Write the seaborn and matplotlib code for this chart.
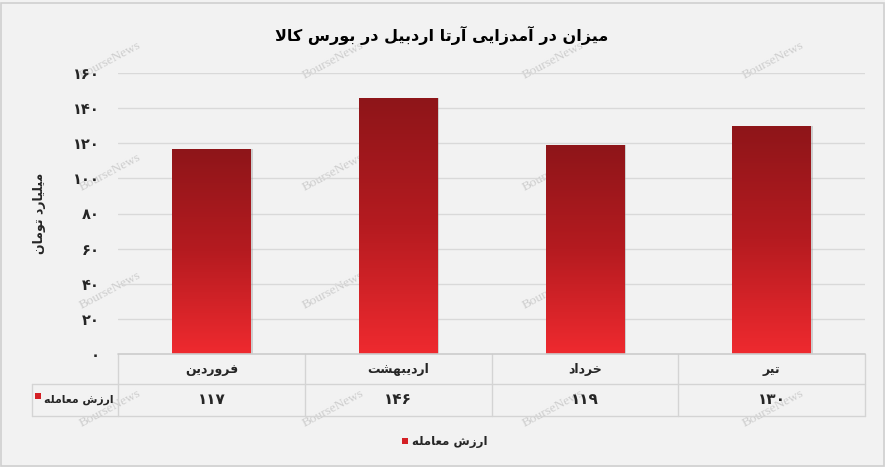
import numpy as np
import matplotlib
matplotlib.use("Agg")
import matplotlib.pyplot as plt
import seaborn as sns
import pandas as pd
from matplotlib.colors import LinearSegmentedColormap
from matplotlib.lines import Line2D
from matplotlib.patches import Rectangle
from matplotlib import patheffects as pe
from matplotlib.transforms import blended_transform_factory

# ---------------- data ----------------
months = ["فروردین", "اردیبهشت", "خرداد", "تیر"]
values = [117, 146, 119, 130]
value_labels = ["۱۱۷", "۱۴۶", "۱۱۹", "۱۳۰"]
ytick_values = [0, 20, 40, 60, 80, 100, 120, 140, 160]
ytick_labels = ["۰", "۲۰", "۴۰", "۶۰", "۸۰", "۱۰۰", "۱۲۰", "۱۴۰", "۱۶۰"]
title_text = "میزان در آمدزایی آرتا اردبیل در بورس کالا"
ylabel_text = "میلیارد تومان"
series_name = "ارزش معامله"
watermark = "BourseNews"

# ---------------- minimal Arabic/Persian shaping ----------------
FORMS = {
    "ا": ("\uFE8D", "\uFE8E", None, None),
    "آ": ("\uFE81", "\uFE82", None, None),
    "ب": ("\uFE8F", "\uFE90", "\uFE91", "\uFE92"),
    "ت": ("\uFE95", "\uFE96", "\uFE97", "\uFE98"),
    "خ": ("\uFEA5", "\uFEA6", "\uFEA7", "\uFEA8"),
    "د": ("\uFEA9", "\uFEAA", None, None),
    "ر": ("\uFEAD", "\uFEAE", None, None),
    "ز": ("\uFEAF", "\uFEB0", None, None),
    "س": ("\uFEB1", "\uFEB2", "\uFEB3", "\uFEB4"),
    "ش": ("\uFEB5", "\uFEB6", "\uFEB7", "\uFEB8"),
    "ع": ("\uFEC9", "\uFECA", "\uFECB", "\uFECC"),
    "ف": ("\uFED1", "\uFED2", "\uFED3", "\uFED4"),
    "ل": ("\uFEDD", "\uFEDE", "\uFEDF", "\uFEE0"),
    "م": ("\uFEE1", "\uFEE2", "\uFEE3", "\uFEE4"),
    "ن": ("\uFEE5", "\uFEE6", "\uFEE7", "\uFEE8"),
    "ه": ("\uFEE9", "\uFEEA", "\uFEEB", "\uFEEC"),
    "و": ("\uFEED", "\uFEEE", None, None),
    "ی": ("\uFBFC", "\uFBFD", "\uFBFE", "\uFBFF"),
    "ک": ("\uFB8E", "\uFB8F", "\uFB90", "\uFB91"),
}
LAMALEF = {"ا": ("\uFEFB", "\uFEFC"), "آ": ("\uFEF5", "\uFEF6")}


def dual(c):
    return c in FORMS and FORMS[c][2] is not None


def shape(s):
    out = []
    i = 0
    n = len(s)
    while i < n:
        c = s[i]
        prev = s[i - 1] if i > 0 else ""
        nxt = s[i + 1] if i + 1 < n else ""
        if c not in FORMS:
            out.append(c)
            i += 1
            continue
        jp = dual(prev)
        if c == "ل" and nxt in LAMALEF:
            out.append(LAMALEF[nxt][1] if jp else LAMALEF[nxt][0])
            i += 2
            continue
        jn = dual(c) and nxt in FORMS
        f = FORMS[c]
        if jp and jn:
            out.append(f[3])
        elif jp:
            out.append(f[1])
        elif jn:
            out.append(f[2])
        else:
            out.append(f[0])
        i += 1
    return "".join(out)[::-1]


# ---------------- figure ----------------
sns.set_style("white")
plt.rcParams["font.family"] = ["DejaVu Sans"]
BG = "#f2f2f2"
W, H = 885, 467
fig = plt.figure(figsize=(W / 100, H / 100), dpi=100, facecolor=BG)


def fx(x):
    return x / W


def fy(y):
    return 1 - y / H


ax = fig.add_axes([fx(118), fy(354), fx(865) - fx(118), fy(73) - fy(354)])
ax.set_facecolor("none")

df = pd.DataFrame({"month": [shape(m) for m in months], "value": values})
sns.barplot(data=df, x="month", y="value", color="#c81e22", width=0.42,
            ax=ax, zorder=3)

ax.set_xlim(-0.5, 3.5)
ax.set_ylim(0, 160)
ax.set_yticks(ytick_values)
ax.set_yticklabels(ytick_labels, fontsize=10.5, fontweight="bold")
ax.tick_params(axis="y", length=0, pad=13)
ax.set_xticks([])
ax.set_xlabel("")
ax.set_ylabel("")
for s in ax.spines.values():
    s.set_visible(False)
for v in ytick_values[1:]:
    ax.axhline(v, color="#d9d9d9", lw=1.0, zorder=1)

cmap = LinearSegmentedColormap.from_list("g", ["#8e1519", "#b51b20", "#ef2a2f"])
grad = np.linspace(0, 1, 256).reshape(-1, 1)
for p in ax.patches:
    x0, y0 = p.get_x(), p.get_y()
    w, h = p.get_width(), p.get_height()
    p.set_facecolor((1, 1, 1, 0.0))
    p.set_edgecolor("none")
    sh = Rectangle((x0, y0), w, h, facecolor="#888888", edgecolor="none",
                   alpha=0.35, zorder=2,
                   path_effects=[pe.withSimplePatchShadow(offset=(1.5, 0),
                                                          shadow_rgbFace="#999999",
                                                          alpha=0.4)])
    ax.add_patch(sh)
    im = ax.imshow(grad, cmap=cmap, extent=[x0, x0 + w, y0, y0 + h],
                   aspect="auto", origin="upper", zorder=4)
    im.set_clip_path(p)

# ---------------- table ----------------
lc = "#d4d4d4"
bt = blended_transform_factory(ax.transData, fig.transFigure)
bounds = [-0.5, 0.5, 1.5, 2.5, 3.5]
for b in bounds:
    fig.add_artist(Line2D([b, b], [fy(354), fy(416)], color=lc, lw=1, transform=bt))
fig.add_artist(Line2D([fx(32), fx(32)], [fy(384), fy(416)], color=lc, lw=1,
                      transform=fig.transFigure))
fig.add_artist(Line2D([fx(118), fx(865)], [fy(354), fy(354)], color="#cccccc", lw=1.2,
                      transform=fig.transFigure))
for yy in (384, 416):
    fig.add_artist(Line2D([fx(32), fx(865)], [fy(yy), fy(yy)], color=lc, lw=1,
                          transform=fig.transFigure))

for i, (m, vl) in enumerate(zip(months, value_labels)):
    fig.text(i, fy(369), shape(m), transform=bt, ha="center", va="center",
             fontsize=9, fontweight="bold")
    fig.text(i, fy(400), vl, transform=bt, ha="center", va="center",
             fontsize=11, fontweight="bold")

renderer = fig.canvas.get_renderer()

# row label with marker placed just left of its text
rl = fig.text(fx(114), fy(400), shape(series_name), ha="right", va="center",
              fontsize=7.8, fontweight="bold")
bb = rl.get_window_extent(renderer)
fig.add_artist(Rectangle(((bb.x0 - 10) / W, fy(399)), 6 / W, 6 / H,
                         facecolor="#d42025", edgecolor="none",
                         transform=fig.transFigure))

# legend
fig.add_artist(Rectangle((fx(402), fy(444)), fx(6), 6 / H, facecolor="#d42025",
                         edgecolor="none", transform=fig.transFigure))
fig.text(fx(412), fy(441), shape(series_name), ha="left", va="center",
         fontsize=8.5, fontweight="bold")

# title and y label
fig.text(fx(442), fy(35), shape(title_text), ha="center", va="center",
         fontsize=11.5, fontweight="bold", color="black")
fig.text(fx(40), fy(213), shape(ylabel_text), ha="center", va="center",
         rotation=90, fontsize=9, fontweight="bold")

# watermarks (behind everything)
for wy in (60, 172, 290, 408):
    for wx in (110, 333, 553, 773):
        fig.text(fx(wx), fy(wy), watermark, ha="center", va="center", rotation=28,
                 fontsize=9.5, color="#cdcdcd", family=["Liberation Serif"],
                 zorder=-1)

# outer border
fig.add_artist(Rectangle((0.5 / W, 1.5 / H), 1 - 1.5 / W, 1 - 4.5 / H, fill=False,
                         edgecolor="#d0d0d0", lw=1.2, transform=fig.transFigure))

fig.savefig("out.png", dpi=100, facecolor=BG)
